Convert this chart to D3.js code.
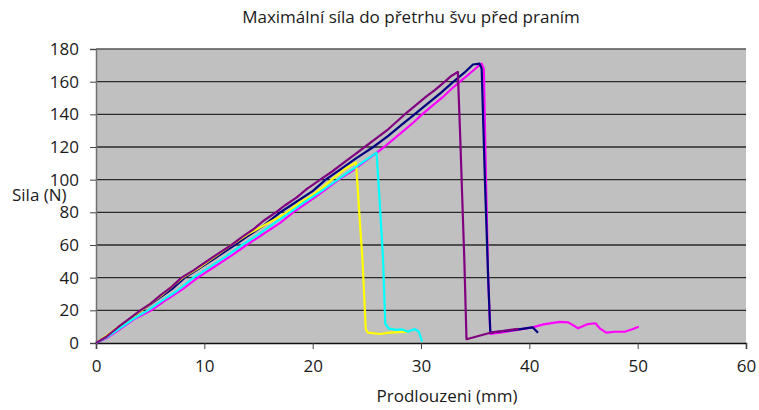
<!DOCTYPE html>
<html>
<head>
<meta charset="utf-8">
<script src="https://cdn.jsdelivr.net/npm/d3@7"></script>
<style>
  html, body { margin: 0; padding: 0; background: #ffffff; }
  svg text { font-family: "Open Sans", "Noto Sans", sans-serif; fill: #1a1a1a; }
</style>
</head>
<body>
<svg id="chart" width="759" height="410"></svg>
<script>
// Tick values for both axes
const xTicks = [0, 10, 20, 30, 40, 50, 60];
const yTicks = [0, 20, 40, 60, 80, 100, 120, 140, 160, 180];

// Force–elongation curves, [elongation mm, force N]
const sample1 = [[0,0],[1,4],[2,9],[3,14],[4.2,20],[5.5,26],[7,33],[8.2,40],[9.5,45.5],[11,52],[12.8,60],[14,65.5],[15.5,72],[17,80],[18.5,86.5],[20,93],[21.2,100],[22.5,106],[24,113],[25.6,120],[27,127],[28.2,133.5],[29.4,140],[30.5,146],[31.8,153],[33,160],[34,165.5],[34.8,170.5],[35.4,171],[35.6,168],[35.9,100],[36.2,40],[36.4,6.3],[37.5,7.2],[39,8.3],[40.3,9.6],[40.8,6.3]];
const sample2 = [[0,0],[1,3],[2,7.5],[3.5,14.5],[5.1,20],[6.5,26.5],[8,33],[9.4,40],[11,47],[12.5,53.5],[13.9,60],[15.5,67],[17,73.5],[18.2,80],[19.5,86],[21,93],[22.4,100],[24,107],[25.3,113.5],[26.6,120],[27.5,125],[28.5,130.5],[29.3,135],[30.1,140],[31,145],[32,150.5],[32.8,155.5],[33.6,160],[34.5,165],[35.2,169],[35.6,171],[35.8,168],[36.0,100],[36.2,40],[36.4,5.5],[37.3,6.3],[40.3,9.6],[41.3,11.4],[42.8,12.9],[43.6,12.6],[44.5,9.0],[45.4,11.6],[46.1,12.1],[46.5,9],[47.1,6.3],[47.9,6.9],[48.8,6.9],[49.5,8.4],[50.1,10]];
const sample3 = [[0,0],[1,4.5],[2,9.5],[3,14],[4,19],[5,24],[6,29],[7,34.5],[8,40],[9.5,46],[11,53],[12.5,60],[14,66.5],[15.5,72],[17,77.5],[17.9,81.4],[18.8,86],[19.75,89.6],[21,95.7],[21.9,100.8],[23.1,107],[24,110.6],[24.3,80],[24.6,50.8],[24.9,8.4],[25.1,6.3],[26.2,5.5],[27.1,6.3],[28.8,6.9]];
const sample4 = [[0,0],[1,3.5],[2,8],[3.5,15],[4.8,20],[6,25.5],[7.5,32],[9,40],[10.5,46.5],[12,53],[13.5,60],[15,66.5],[16.5,73.5],[17.9,80],[19.3,86.5],[20.8,93],[22.3,100],[23.5,105.5],[24.7,111],[25.9,116.5],[26.2,85],[26.5,50.8],[26.7,12],[27.0,9],[27.7,8],[28.2,8.4],[28.8,6.9],[29.4,8.6],[29.8,6.9],[30.1,0.8]];
const sample5 = [[0,0],[1,4],[2,9.5],[3,14.5],[4.1,20],[5,24],[6,29.5],[7,34.5],[7.9,40],[9,44.5],[10,49],[11,53.5],[12.5,60],[13.5,65],[14.5,69.5],[15.5,75],[16.6,80],[17.5,84.5],[18.5,89],[19.5,94.5],[20.7,100],[21.8,105],[23,111],[24,116],[24.8,120],[25.8,125],[27,131],[28,137],[28.5,140],[29.5,145.5],[30.5,151],[31.3,155],[32.2,160],[32.8,163.5],[33.4,166],[33.6,130],[34.0,50.8],[34.2,2.3],[36.4,6.3],[38,7.8],[39,8.6]];

const seriesColors = ["#000080", "#ff00ff", "#ffff00", "#00ffff", "#800080"];
const seriesData = [sample1, sample2, sample3, sample4, sample5];
const drawOrder = [1, 0, 2, 3, 4];

const svg = d3.select("#chart");
const plotLeft = 96, plotRight = 746, plotTop = 49, plotBottom = 343;
const fontStack = "'Open Sans', 'Noto Sans', sans-serif";

const x = d3.scaleLinear().domain([0, 60]).range([plotLeft, plotRight]);
const y = d3.scaleLinear().domain([0, 180]).range([plotBottom, plotTop]);

// Plot background
svg.append("rect")
  .attr("x", plotLeft).attr("y", plotTop)
  .attr("width", plotRight - plotLeft).attr("height", plotBottom - plotTop)
  .attr("fill", "#c0c0c0");

// Horizontal gridlines
svg.append("g").selectAll("line")
  .data(yTicks.filter(d => d > 0))
  .join("line")
  .attr("x1", plotLeft).attr("x2", plotRight)
  .attr("y1", d => y(d)).attr("y2", d => y(d))
  .attr("stroke", d => d === 180 ? "#555" : "#2a2a2a")
  .attr("stroke-width", 1.4);

// Y axis
const yAxis = svg.append("g")
  .attr("transform", `translate(${plotLeft},0)`)
  .call(d3.axisLeft(y).tickValues(yTicks).tickSize(6).tickPadding(11));
yAxis.select(".domain").attr("stroke", "#707070").attr("stroke-width", 1.5);
yAxis.selectAll(".tick line").attr("stroke", "#444");
yAxis.selectAll("text").attr("font-size", 17).attr("fill", "#1a1a1a")
  .attr("font-family", fontStack);

// X axis
const xAxis = svg.append("g")
  .attr("transform", `translate(0,${plotBottom})`)
  .call(d3.axisBottom(x).tickValues(xTicks).tickSize(6).tickPadding(11));
xAxis.select(".domain").attr("stroke", "#111").attr("stroke-width", 1.5);
xAxis.selectAll(".tick line").attr("stroke", "#444");
xAxis.selectAll("text").attr("font-size", 17).attr("fill", "#1a1a1a")
  .attr("font-family", fontStack);

// Curves
const line = d3.line().x(d => x(d[0])).y(d => y(d[1]));
svg.append("g").selectAll("path")
  .data(drawOrder)
  .join("path")
  .attr("d", i => line(seriesData[i]))
  .attr("fill", "none")
  .attr("stroke", i => seriesColors[i])
  .attr("stroke-width", 2.2)
  .attr("stroke-linejoin", "round");

// Titles
svg.append("text")
  .attr("x", 411).attr("y", 23)
  .attr("text-anchor", "middle")
  .attr("font-size", 17)
  .text("Maximální síla do přetrhu švu před praním");

svg.append("text")
  .attr("x", 447).attr("y", 402)
  .attr("text-anchor", "middle")
  .attr("font-size", 17)
  .text("Prodlouzeni (mm)");

svg.append("text")
  .attr("x", 12).attr("y", 201)
  .attr("font-size", 17)
  .text("Sila (N)");
</script>
</body>
</html>
